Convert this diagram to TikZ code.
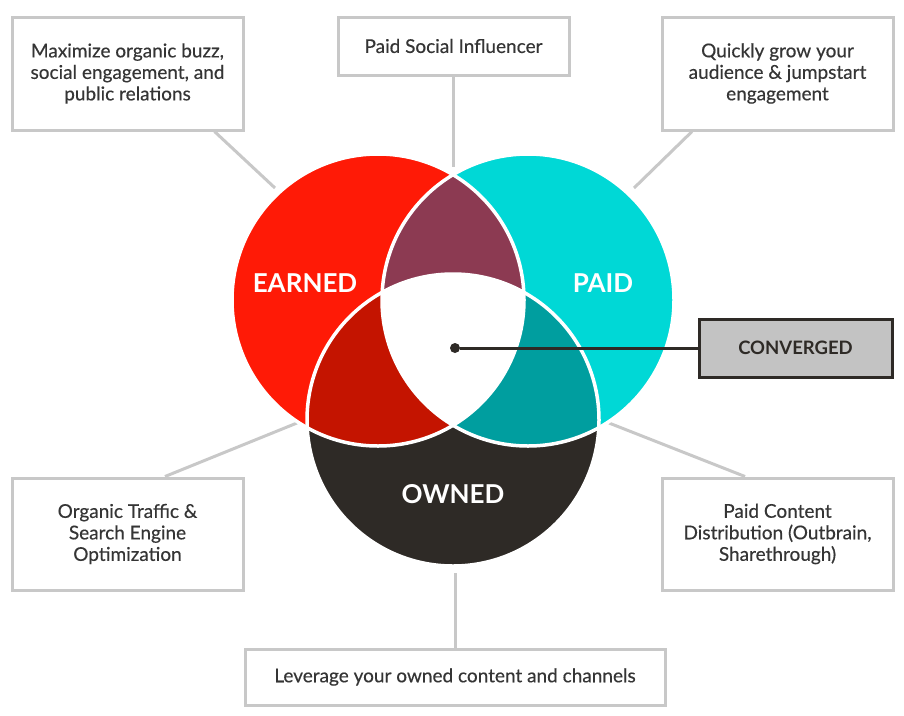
\documentclass[tikz,border=0pt]{standalone}
\usepackage{fontspec}
\setmainfont{Lato}
\newfontfamily\boxfont[FakeBold=0.35]{Lato}
\usetikzlibrary{positioning}
\definecolor{earnedred}{HTML}{FF1A06}
\definecolor{paidcyan}{HTML}{00D8D6}
\definecolor{owneddark}{HTML}{2E2A26}
\definecolor{bothmaroon}{HTML}{8C3A52}
\definecolor{bothred}{HTML}{C41400}
\definecolor{bothteal}{HTML}{009E9F}
\definecolor{boxgray}{HTML}{C8C8C8}
\definecolor{textgray}{HTML}{353535}
\definecolor{convgray}{HTML}{C3C3C3}
\tikzset{
        x=1pt, y=-1pt, % work in pixels, y going down
        info/.style={draw=boxgray, line width=3pt, fill=white, align=center, text=textgray, inner sep=0pt, font=\boxfont\fontsize{19}{21.5}\selectfont}, % the grey text boxes
        link/.style={draw=boxgray, line width=3pt}, % grey connectors
        bigword/.style={text=white, font=\bfseries\fontsize{26}{26}\selectfont}, % circle names
        }
\newcommand{\circrad}{146}

\begin{document}
\begin{tikzpicture}
        \useasboundingbox (0,0) rectangle (904,715);
        % circle centres
        \coordinate (E) at (378,300);
        \coordinate (P) at (528,300);
        \coordinate (O) at (453,420);

        % text boxes
        \node[info, minimum width=231pt, minimum height=113pt] (buzz) at (127.5,73.5) {Maximize organic buzz,\\social engagement, and\\public relations};
        \node[info, minimum width=231pt, minimum height=58pt] (social) at (453.5,46) {Paid Social Influencer};
        \node[info, minimum width=231pt, minimum height=113pt] (grow) at (777.5,73.5) {Quickly grow your\\audience \& jumpstart\\engagement};
        \node[info, minimum width=231pt, minimum height=112pt] (organic) at (127.5,534) {Organic Traffic \&\\Search Engine\\Optimization};
        \node[info, minimum width=231pt, minimum height=112pt] (content) at (777.5,534) {Paid Content\\Distribution (Outbrain,\\Sharethrough)};
        \node[info, minimum width=420pt, minimum height=56pt] (leverage) at (455,677) {Leverage your owned content and channels};
        \node[draw=owneddark, line width=3pt, fill=convgray, text=owneddark, minimum width=193pt, minimum height=58pt, font=\bfseries\fontsize{18.5}{18.5}\selectfont] (conv) at (795.5,348) {CONVERGED};

        % free ends near the circles
        \coordinate (buzzend) at (275,188);
        \coordinate (socialend) at (453.5,167);
        \coordinate (growend) at (634,188);
        \coordinate (organicend) at (297,423);
        \coordinate (contentend) at (609,423);
        \coordinate (leverend) at (455,573);

        \draw[link] ([xshift=87pt]buzz.south) -- (buzzend);
        \draw[link] (social.south) -- (socialend);
        \draw[link] ([xshift=-85.5pt]grow.south) -- (growend);
        \draw[link] ([xshift=37.5pt]organic.north) -- (organicend);
        \draw[link] ([xshift=-32.5pt]content.north) -- (contentend);
        \draw[link] (leverage.north) -- (leverend);

        % the three circles
        \fill[earnedred] (E) circle[radius=\circrad];
        \fill[paidcyan] (P) circle[radius=\circrad];
        \fill[owneddark] (O) circle[radius=\circrad];
        \begin{scope}
                \clip (E) circle[radius=\circrad];
                \fill[bothmaroon] (P) circle[radius=\circrad];
                \fill[bothred] (O) circle[radius=\circrad];
        \end{scope}
        \begin{scope}
                \clip (P) circle[radius=\circrad];
                \fill[bothteal] (O) circle[radius=\circrad];
                \clip (E) circle[radius=\circrad];
                \fill[white] (O) circle[radius=\circrad];
        \end{scope}
        \foreach \c in {E,P,O}
                \draw[white, line width=3.5pt] (\c) circle[radius=\circrad];

        \node[bigword] (earned) at (305,283) {EARNED};
        \node[bigword] (paid) at (603,283) {PAID};
        \node[bigword] (owned) at (453,494) {OWNED};

        % converged pointer
        \node[circle, fill=owneddark, inner sep=0pt, minimum size=10pt] (dot) at (455,348) {};
        \draw[owneddark, line width=3pt] (dot) -- (conv.west);
\end{tikzpicture}
\end{document}
